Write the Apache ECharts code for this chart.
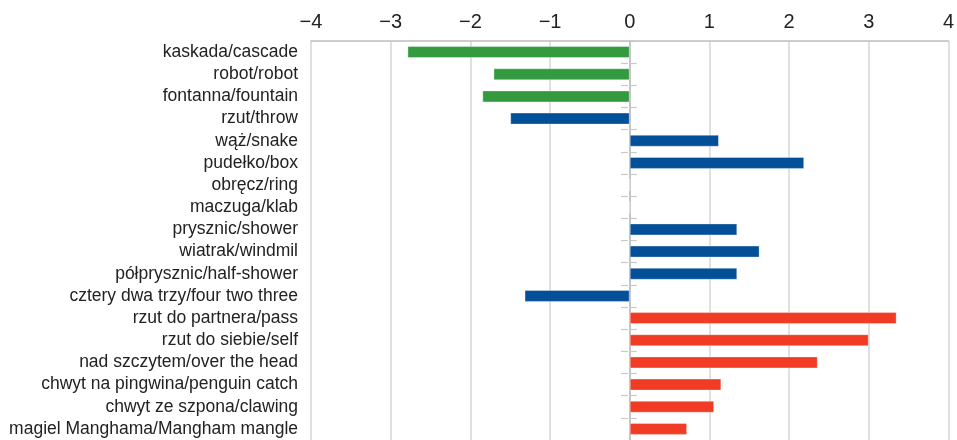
<!DOCTYPE html>
<html><head><meta charset="utf-8">
<script src="https://cdn.jsdelivr.net/npm/echarts@6/dist/echarts.min.js"></script>
<style>html,body{margin:0;padding:0;background:#fff}#c{width:957px;height:440px}</style>
</head><body><div id="c"></div>
<script>
const categories = ["kaskada/cascade","robot/robot","fontanna/fountain","rzut/throw","wąż/snake","pudełko/box","obręcz/ring","maczuga/klab","prysznic/shower","wiatrak/windmil","półprysznic/half-shower","cztery dwa trzy/four two three","rzut do partnera/pass","rzut do siebie/self","nad szczytem/over the head","chwyt na pingwina/penguin catch","chwyt ze szpona/clawing","magiel Manghama/Mangham mangle"];
const values = [-2.79,-1.71,-1.85,-1.50,1.12,2.19,0,0,1.35,1.63,1.35,-1.32,3.35,3.00,2.36,1.15,1.06,0.72];
const groups = ["g","g","g","b","b","b","b","b","b","b","b","b","r","r","r","r","r","r"];
const xTicks = [-4,-3,-2,-1,0,1,2,3,4];

const groupColors = {g:"#339a40", b:"#034f98", r:"#f03b25"};
const series = Object.keys(groupColors).map(k => ({
  type:'bar', stack:'all', barWidth:12, yAxisIndex:0,
  data: values.map((v,i)=> groups[i]===k ? v : '-'),
  itemStyle:{color:groupColors[k], borderColor:'rgba(255,255,255,0.35)', borderWidth:1},
  silent:true
}));

const chart = echarts.init(document.getElementById('c'));
const tickStyle = {show:true, length:7, lineStyle:{color:'#c8c8c8', width:1.2}};
const FONT = 'Liberation Sans';
chart.setOption({
  animation:false,
  grid:{left:311, width:641, top:41, height:400},
  xAxis:{type:'value', position:'top', min:xTicks[0], max:xTicks[xTicks.length-1], interval:1,
    axisLine:{show:true, lineStyle:{color:'#bdbdbd', width:1.5}},
    axisTick:{show:false},
    splitLine:{show:true, lineStyle:{color:'#d6d6d6', width:1.5}},
    axisLabel:{margin:9, fontSize:20, color:'#222', fontFamily:FONT,
      formatter:v=>String(v).replace('-','\u2212')}},
  yAxis:[
    {type:'category', data:categories, inverse:true, position:'left',
     axisLine:{show:false, onZero:false}, axisTick:{show:false},
     axisLabel:{margin:13, fontSize:17.5, color:'#222', fontFamily:FONT, interval:0}},
    {type:'category', data:categories, inverse:true, position:'right',
     axisLine:{show:true, onZero:true, lineStyle:{color:'#bdbdbd', width:1.5}},
     axisTick:Object.assign({inside:false}, tickStyle), axisLabel:{show:false}},
    {type:'category', data:categories, inverse:true, position:'right', offset:-320.5,
     axisLine:{show:false, onZero:false},
     axisTick:Object.assign({inside:true}, tickStyle), axisLabel:{show:false}}
  ],
  series: series
});
</script></body></html>
